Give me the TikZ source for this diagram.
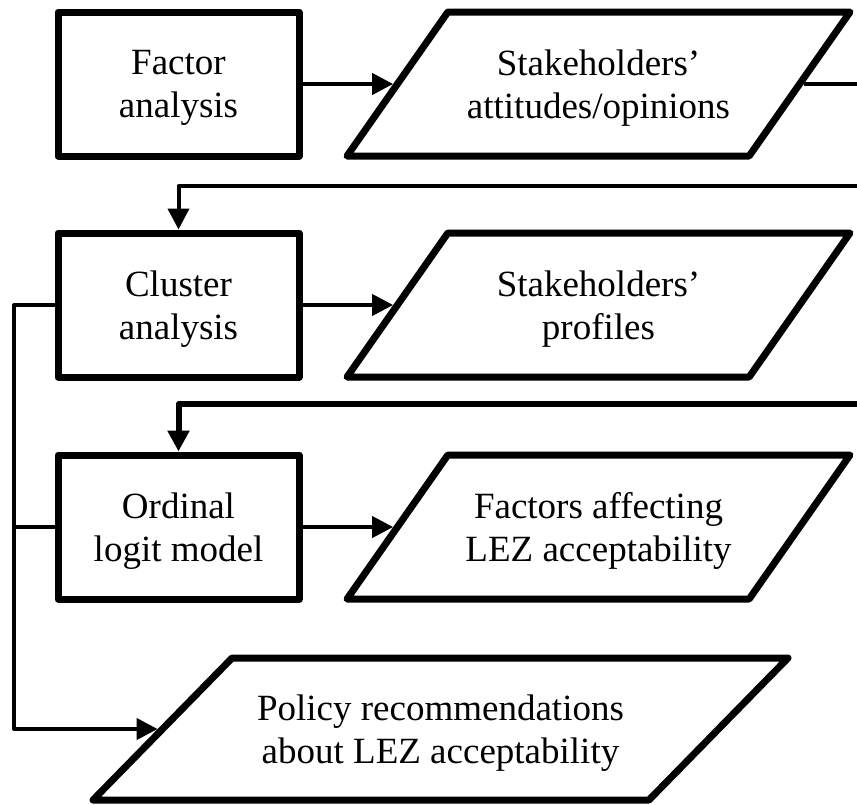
\documentclass[tikz,border=0pt]{standalone}
\usepackage{fontspec}
\setmainfont{Liberation Serif}
\usetikzlibrary{shapes.geometric,arrows.meta}
\newcommand{\dtxt}[3]{\parbox[c][#2][c]{#1}{\centering\vspace*{8pt}#3}}
\begin{document}
\begin{tikzpicture}[x=1pt,y=-1pt,line join=round,
  txt/.style={align=center,font=\fontsize{37}{43}\selectfont},
  procbox/.style={txt,draw,line width=7pt,minimum width=241pt,minimum height=144pt,inner sep=0pt},
  databox/.style={txt,draw,line width=7pt,shape=trapezium,trapezium left angle=55,trapezium right angle=125,
    trapezium stretches body,minimum width=503pt,inner sep=0pt},
  link/.style={line width=4pt},
  flow/.style={link,-{Triangle[length=21pt,width=21pt]}}
]
\useasboundingbox (0,0) rectangle (857,804);
\fill[white] (0,0) rectangle (857,804);

\node[procbox] (fa) at (178.5,84) {\dtxt{230pt}{144pt}{Factor\\analysis}};
\node[databox] (p1) at (598.5,84) {\dtxt{290pt}{144pt}{Stakeholders’\\attitudes/opinions}};
\node[procbox] (ca) at (178.5,305) {\dtxt{230pt}{144pt}{Cluster\\analysis}};
\node[databox] (p2) at (598.5,305) {\dtxt{290pt}{144pt}{Stakeholders’\\profiles}};
\node[procbox] (ol) at (178.5,527) {\dtxt{230pt}{144pt}{Ordinal\\logit model}};
\node[databox] (p3) at (598.5,527) {\dtxt{290pt}{144pt}{Factors affecting\\LEZ acceptability}};
\node[databox,trapezium left angle=45.6,trapezium right angle=134.4,minimum width=695pt]
  (p4) at (440.5,729) {\dtxt{400pt}{142pt}{Policy recommendations\\about LEZ acceptability}};

\coordinate (e1) at (875,84);
\coordinate (r1) at (875,186);
\coordinate (r2) at (875,404);
\coordinate (b2) at (14,729);

\draw[flow] (fa.east) -- (p1.left side);
\draw[link] (p1.right side) -- (e1);
\draw[flow] (r1) -| (ca.north);
\draw[flow] (ca.east) -- (p2.left side);
\draw[flow,line width=6pt] (r2) -| (ol.north);
\draw[flow] (ol.east) -- (p3.left side);
\draw[flow] (ca.west) -| (b2) -- (p4.left side);
\draw[link] (ol.west) -- (ol.west -| b2);
\end{tikzpicture}
\end{document}
